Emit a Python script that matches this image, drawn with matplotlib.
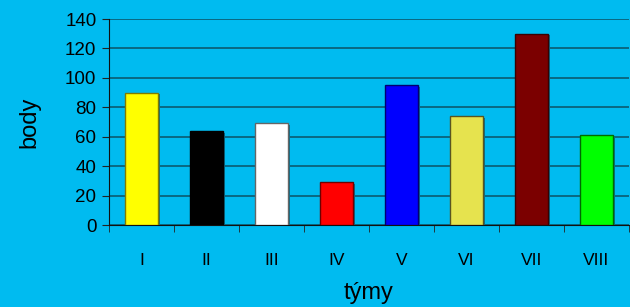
import matplotlib.pyplot as plt
import numpy as np

teams = ["I", "II", "III", "IV", "V", "VI", "VII", "VIII"]
points = [90, 64, 69, 29, 95, 74, 130, 61]
colors = ["#ffff00", "#000000", "#ffffff", "#ff0000", "#0000ff", "#e6e34e", "#7b0000", "#00ff00"]
edges = ["#807a00", "#000000", "#666666", "#700000", "#000070", "#5a5520", "#3a0000", "#006a00"]

BG = "#00bbf0"

plt.rcParams["font.family"] = ["Liberation Sans", "DejaVu Sans"]

fig = plt.figure(figsize=(6.3, 3.07), dpi=100, facecolor=BG)
ax = fig.add_axes([109 / 630, 1 - 225 / 307, 520 / 630, 206 / 307])
ax.set_facecolor(BG)

x = np.arange(len(teams))
# slight shadow behind the bars
ax.bar(x + 0.03, points, width=0.5, bottom=-1.2, color="#0a6f8c", zorder=2)
ax.bar(x, points, width=0.5, color=colors, edgecolor=edges, linewidth=1.0, zorder=3)

ax.set_xlim(-0.5, len(teams) - 0.5)
ax.set_ylim(0, 140)
ax.set_yticks(range(0, 141, 20))
ax.yaxis.grid(True, color="#0b5a70", linewidth=1.2, zorder=1)
ax.set_axisbelow(True)

ax.set_xticks(x)
ax.set_xticklabels(teams)
ax.set_xticks(np.arange(-0.5, len(teams)), minor=True)
ax.tick_params(axis="x", which="major", length=0, pad=20, labelsize=12.5)
ax.tick_params(axis="x", which="minor", length=5, color="#222222", direction="out")
ax.tick_params(axis="y", length=5, color="#222222", labelsize=13.5, pad=4)

for s in ["top", "right"]:
    ax.spines[s].set_visible(False)
ax.spines["left"].set_color("#111111")
ax.spines["bottom"].set_color("#111111")

ax.set_ylabel("body", fontsize=17, labelpad=18)
ax.set_xlabel("týmy", fontsize=17, labelpad=10)

fig.savefig("out.png", dpi=100, facecolor=BG)
